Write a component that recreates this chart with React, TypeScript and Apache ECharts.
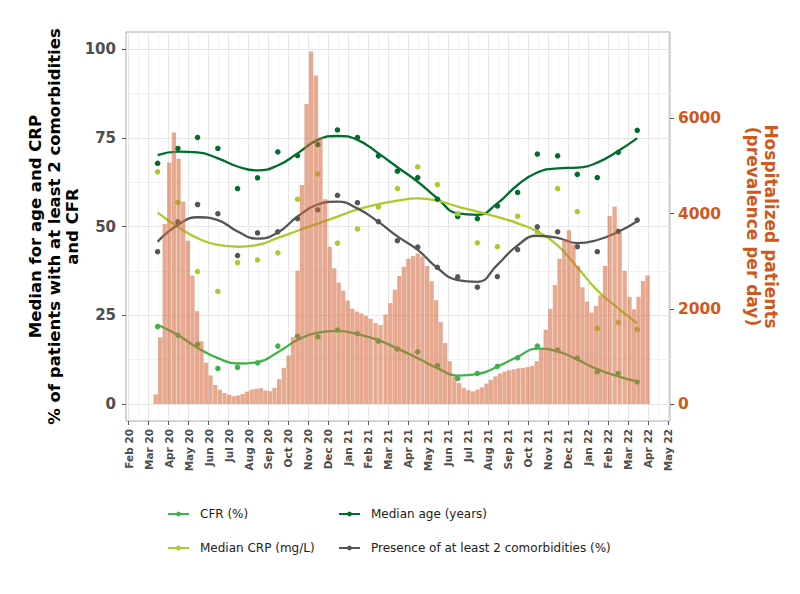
import React, { useEffect, useRef } from "react";
import * as echarts from "echarts";

// ---- tick labels ----
const xTickLabels = [
  "Feb 20", "Mar 20", "Apr 20", "May 20", "Jun 20", "Jul 20", "Aug 20", "Sep 20", "Oct 20", "Nov 20", "Dec 20",
  "Jan 21", "Feb 21", "Mar 21", "Apr 21", "May 21", "Jun 21", "Jul 21", "Aug 21", "Sep 21", "Oct 21", "Nov 21", "Dec 21",
  "Jan 22", "Feb 22", "Mar 22", "Apr 22", "May 22",
];
const leftTicks = [0, 25, 50, 75, 100];
const leftMinorTicks = [12.5, 37.5, 62.5, 87.5];
const rightTicks = [0, 2000, 4000, 6000];

// ---- monthly observations (15th of each month, Mar 2020 .. Mar 2022) ----
const pointDates = [
  "2020-03-15", "2020-04-15", "2020-05-15", "2020-06-15", "2020-07-15", "2020-08-15", "2020-09-15", "2020-10-15",
  "2020-11-15", "2020-12-15", "2021-01-15", "2021-02-15", "2021-03-15", "2021-04-15", "2021-05-15", "2021-06-15",
  "2021-07-15", "2021-08-15", "2021-09-15", "2021-10-15", "2021-11-15", "2021-12-15", "2022-01-15", "2022-02-15",
  "2022-03-15",
];
const cfrPoints = [21.8, 19.4, 16.8, 10.0, 10.3, 11.6, 16.3, 19.1, 18.9, 20.8, 19.8, 17.7, 15.5, 14.7, 10.8, 7.2, 8.6, 10.6, 13.0, 16.3, 15.2, 12.9, 9.1, 8.6, 6.2];
const agePoints = [67.8, 72.0, 75.1, 72.0, 60.7, 63.7, 71.0, 70.0, 73.1, 77.2, 75.1, 69.9, 65.6, 63.8, 57.7, 52.8, 52.2, 55.8, 59.6, 70.4, 69.9, 64.7, 63.8, 70.9, 77.1];
const crpPoints = [65.4, 56.8, 37.3, 31.7, 39.8, 40.6, 42.6, 57.7, 64.8, 45.3, 49.3, 55.5, 60.7, 66.8, 61.8, 53.6, 45.4, 44.3, 52.9, 48.5, 60.7, 54.2, 21.3, 23.0, 21.0];
const comPoints = [42.9, 51.3, 56.2, 53.6, 41.8, 48.2, 48.5, 52.2, 54.7, 58.8, 56.7, 51.4, 46.0, 44.2, 38.5, 35.8, 32.9, 35.9, 43.5, 49.9, 48.5, 44.3, 42.9, 48.6, 51.8];

// ---- smoothed trend values at the same dates ----
const cfrTrend = [22.3, 19.4, 15.8, 12.9, 11.4, 11.8, 14.6, 18.0, 20.1, 20.6, 19.7, 18.0, 15.6, 12.9, 10.1, 8.0, 8.4, 10.5, 13.3, 15.6, 14.8, 12.5, 9.8, 7.8, 6.3];
const ageTrend = [70.1, 71.1, 70.9, 69.2, 66.9, 65.8, 67.2, 70.6, 74.4, 75.5, 74.4, 70.6, 66.7, 62.6, 57.9, 53.7, 53.3, 56.5, 61.7, 65.2, 66.4, 66.6, 68.0, 71.3, 74.9];
const crpTrend = [53.9, 49.9, 46.7, 44.8, 44.3, 44.8, 46.8, 48.8, 50.8, 52.8, 54.8, 56.3, 57.3, 57.9, 57.3, 55.6, 54.2, 52.7, 50.9, 48.6, 44.7, 38.5, 32.0, 26.9, 22.7];
const comTrend = [45.7, 50.4, 52.6, 51.8, 48.6, 46.6, 48.3, 52.8, 56.2, 57.0, 55.1, 51.3, 47.2, 43.4, 38.3, 34.9, 34.4, 39.2, 44.7, 47.4, 46.8, 45.3, 46.2, 48.5, 51.5];

// ---- hospitalized patients, weekly from 2020-03-12 ----
const hospStart = "2020-03-12";
const hosp2020 = [
  200, 1400, 3780, 5070, 5700, 5150, 4250, 3430, 2700, 1950, 1320, 870, 600, 400, 300, 230, 195, 165, 180, 210,
  260, 305, 320, 335, 285, 270, 340, 520, 760, 1020, 1400, 2800, 4600, 6300, 7400, 6900, 5600, 4300, 3300, 2850,
  2550, 2380, 2170,
];
const hosp2021 = [
  2000, 1940, 1900, 1850, 1790, 1700, 1660, 1880, 2120, 2400, 2690, 2880, 3050, 3110, 3160, 3100, 2900, 2580, 2180,
  1720, 1280, 900, 580, 440, 340, 290, 265, 300, 350, 430, 510, 580, 640, 680, 710, 730, 750, 760, 775, 800, 900,
  1150, 1560, 2000, 2500, 3050, 3450, 3650, 3350, 2900, 2450, 2150,
];
const hosp2022 = [1920, 2060, 2280, 2900, 3950, 4150, 3600, 2800, 2250, 1990, 2250, 2580, 2700];

const names = {
  cfr: "CFR (%)",
  age: "Median age (years)",
  crp: "Median CRP (mg/L)",
  com: "Presence of at least 2 comorbidities (%)",
};
const colors = {
  cfr: "#3cb44a",
  age: "#006d2c",
  crp: "#a9cc2c",
  com: "#555555",
  hosp: "#d66c42",
  orange: "#cf581c",
};

const leftTitle = "Median for age and CRP\n% of patients with at least 2 comorbidities\nand CFR";
const rightTitle = "Hospitalized patients\n(prevalence per day)";

// months since 1 Feb 2020 (fractional)
function monthPosYMD(y: number, mo: number, d: number): number {
  const dim = new Date(Date.UTC(y, mo, 0)).getUTCDate();
  return (y - 2020) * 12 + (mo - 2) + (d - 1) / dim;
}
function monthPos(s: string): number {
  const [y, mo, d] = s.split("-").map(Number);
  return monthPosYMD(y, mo, d);
}

const FONT = "DejaVu Sans";

export default function App() {
  const ref = useRef<HTMLDivElement | null>(null);

  useEffect(() => {
    if (!ref.current) return;
    const chart = echarts.init(ref.current, null, { renderer: "svg" });

    const px = pointDates.map(monthPos);
    const pair = (vals: number[]) => vals.map((v, i) => [px[i], v]);

    const [sy, sm, sd] = hospStart.split("-").map(Number);
    const hospAll = [...hosp2020, ...hosp2021, ...hosp2022];
    const hospData = hospAll.map((v, k) => {
      const dt = new Date(Date.UTC(sy, sm - 1, sd + 7 * k));
      return [monthPosYMD(dt.getUTCFullYear(), dt.getUTCMonth() + 1, dt.getUTCDate()), v];
    });

    const monthTicks = xTickLabels.map((_, i) => i);
    const minorX = xTickLabels.slice(0, -1).map((_, i) => i + 0.5);

    const xMin = -0.13;
    const xMax = 27.09;
    const lMin = -4.8;
    const lMax = 104.8;
    const rMin = -357;
    const rMax = 7812;

    const lineSeries = (key: "cfr" | "age" | "crp" | "com", trend: number[]) => ({
      name: names[key],
      type: "line",
      xAxisIndex: 0,
      yAxisIndex: 0,
      data: pair(trend),
      smooth: 0.5,
      symbol: "circle",
      symbolSize: 5,
      showSymbol: false,
      lineStyle: { color: colors[key], width: 2.3 },
      itemStyle: { color: colors[key] },
      z: 2,
    });
    const scatterSeries = (key: "cfr" | "age" | "crp" | "com", pts: number[]) => ({
      name: names[key],
      type: "scatter",
      xAxisIndex: 0,
      yAxisIndex: 0,
      data: pair(pts),
      symbolSize: 5.5,
      itemStyle: { color: colors[key], opacity: 1 },
      z: 2,
    });

    const legendCommon = {
      padding: 0,
      itemWidth: 21,
      itemHeight: 6,
      selectedMode: false,
      textStyle: { fontFamily: FONT, fontSize: 12, color: "#222", padding: [0, 0, 0, 6] },
    };

    const option: any = {
      animation: false,
      backgroundColor: "#ffffff",
      grid: {
        left: 126,
        right: 130,
        top: 32,
        bottom: 173,
        show: true,
        borderColor: "#ababab",
        borderWidth: 1,
        backgroundColor: "#ffffff",
        containLabel: false,
        outerBoundsMode: "none",
      },
      legend: [
        { ...legendCommon, data: [names.cfr], left: 167, top: 508 },
        { ...legendCommon, data: [names.age], left: 338, top: 508 },
        { ...legendCommon, data: [names.crp], left: 167, top: 542 },
        { ...legendCommon, data: [names.com], left: 338, top: 542 },
      ],
      xAxis: [
        {
          type: "value",
          min: xMin,
          max: xMax,
          position: "bottom",
          axisLine: { show: false, onZero: false },
          axisTick: { show: true, customValues: monthTicks, length: 4, lineStyle: { color: "#555", width: 1 } },
          axisLabel: {
            customValues: monthTicks,
            formatter: (v: number) => xTickLabels[Math.round(v)] ?? "",
            rotate: 90,
            fontFamily: FONT,
            fontWeight: "bold",
            fontSize: 10.5,
            color: "#4d4d4d",
            margin: 8,
          },
          splitLine: { show: true, lineStyle: { color: "#e6e6e6", width: 1 } },
        },
        {
          type: "value",
          min: xMin,
          max: xMax,
          position: "bottom",
          axisLine: { show: false, onZero: false },
          axisTick: { show: false, customValues: minorX },
          axisLabel: { show: false },
          splitLine: { show: true, lineStyle: { color: "#f2f2f2", width: 1 } },
        },
      ],
      yAxis: [
        {
          type: "value",
          position: "left",
          min: lMin,
          max: lMax,
          axisLine: { show: false, onZero: false },
          axisTick: { show: true, customValues: leftTicks, length: 4, lineStyle: { color: "#555", width: 1 } },
          axisLabel: {
            customValues: leftTicks,
            formatter: (v: number) => String(v),
            fontFamily: FONT,
            fontWeight: "bold",
            fontSize: 15,
            color: "#4d4d4d",
            margin: 10,
          },
          splitLine: { show: true, lineStyle: { color: "#e6e6e6", width: 1 } },
        },
        {
          type: "value",
          position: "right",
          min: rMin,
          max: rMax,
          axisLine: { show: false, onZero: false },
          axisTick: { show: true, customValues: rightTicks, length: 4, lineStyle: { color: "#555", width: 1 } },
          axisLabel: {
            customValues: rightTicks,
            formatter: (v: number) => String(v),
            fontFamily: FONT,
            fontWeight: "bold",
            fontSize: 15.5,
            color: colors.orange,
            margin: 8,
          },
          splitLine: { show: false },
        },
        {
          type: "value",
          position: "left",
          min: lMin,
          max: lMax,
          axisLine: { show: false, onZero: false },
          axisTick: { show: false, customValues: leftMinorTicks },
          axisLabel: { show: false },
          splitLine: { show: true, lineStyle: { color: "#f2f2f2", width: 1 } },
        },
      ],
      graphic: [
        {
          type: "text",
          x: 54,
          y: 226.5,
          rotation: Math.PI / 2,
          style: {
            text: leftTitle,
            fill: "#000",
            fontFamily: FONT,
            fontWeight: "bold",
            fontSize: 16.5,
            lineHeight: 18.5,
            align: "center",
            verticalAlign: "middle",
            textAlign: "center",
            textVerticalAlign: "middle",
          },
        },
        {
          type: "text",
          x: 762,
          y: 226.5,
          rotation: -Math.PI / 2,
          style: {
            text: rightTitle,
            fill: colors.orange,
            fontFamily: FONT,
            fontWeight: "bold",
            fontSize: 17,
            lineHeight: 18.5,
            align: "center",
            verticalAlign: "middle",
            textAlign: "center",
            textVerticalAlign: "middle",
          },
        },
      ],
      series: [
        lineSeries("cfr", cfrTrend),
        lineSeries("age", ageTrend),
        lineSeries("crp", crpTrend),
        lineSeries("com", comTrend),
        scatterSeries("cfr", cfrPoints),
        scatterSeries("age", agePoints),
        scatterSeries("crp", crpPoints),
        scatterSeries("com", comPoints),
        {
          name: "Hospitalized patients",
          type: "bar",
          xAxisIndex: 0,
          yAxisIndex: 1,
          data: hospData,
          barWidth: 4.3,
          itemStyle: { color: colors.hosp, opacity: 0.58 },
          z: 3,
        },
      ],
    };

    chart.setOption(option);
    return () => chart.dispose();
  }, []);

  return (
    <div
      ref={ref}
      style={{ position: "fixed", left: 0, top: 0, width: 800, height: 594, background: "#fff" }}
    />
  );
}
